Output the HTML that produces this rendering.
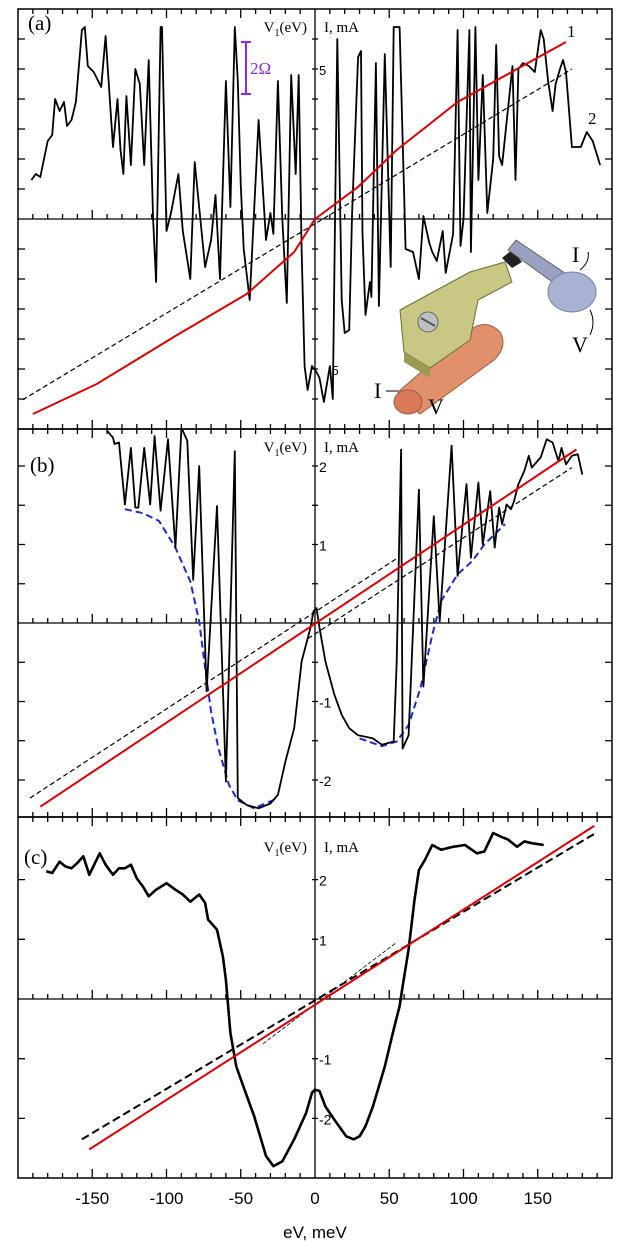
<!DOCTYPE html>
<html><head><meta charset="utf-8"><style>
html,body{margin:0;padding:0;background:#fff;}
svg{display:block;}
text{font-family:"Liberation Sans",sans-serif;}
.serif{font-family:"Liberation Serif",serif;}
</style></head><body>
<svg id="chart" width="620" height="1242" viewBox="0 0 620 1242" xmlns="http://www.w3.org/2000/svg">
<g id="frames"></g>
<g id="inset">
  <path d="M398 392 L470 330 Q486 318 500 332 Q508 346 494 360 L420 414 Z" fill="#e0906a" stroke="#a05a3a" stroke-width="1"/>
  <ellipse cx="408" cy="402" rx="14" ry="12" fill="#d9795a" stroke="#a05a3a"/>
  <path d="M400 310 L470 272 L505 262 L512 282 L478 300 L470 340 L430 368 L404 352 Z" fill="#c8c884" stroke="#6e6e30" stroke-width="1"/>
  <path d="M404 352 L430 368 L430 378 L404 362 Z" fill="#9a9a50"/>
  <circle cx="428" cy="322" r="10" fill="#c0c0c0" stroke="#666"/>
  <line x1="421" y1="318" x2="435" y2="326" stroke="#555" stroke-width="2"/>
  <path d="M502 258 L512 250 L522 262 L512 268 Z" fill="#222"/>
  <path d="M508 250 L516 240 L590 290 L580 302 Z" fill="#9aa0c0" stroke="#555" stroke-width="0.8"/>
  <ellipse cx="572" cy="292" rx="24" ry="20" fill="#aab2d4" stroke="#7a80a0"/>
  <path d="M580 270 Q590 262 588 252" fill="none" stroke="#000"/>
  <path d="M590 310 Q596 322 590 335" fill="none" stroke="#000"/>
  <text class="serif" x="572" y="262" font-size="22">I</text>
  <text class="serif" x="572" y="352" font-size="22">V</text>
  <text class="serif" x="374" y="398" font-size="22">I</text>
  <line x1="386" y1="391" x2="398" y2="391" stroke="#000"/>
  <text class="serif" x="428" y="414" font-size="22">V</text>
</g>
<g id="plots"></g>
<g id="labels"></g>
</svg>
<script>
// ---------- data ----------
const xTicks = [-150,-100,-50,0,50,100,150];
const aX = [-191,-188,-185,-180,-177,-175,-172,-169,-167,-164,-161,-157,-155,-153,-149,-144,-141,-136,-133,-131,-129,-127,-124,-121,-118,-115,-112,-109,-107,-104,-103,-100,-97,-92,-89,-84,-81,-74,-70,-67,-64,-60,-57,-54,-52,-50,-48,-44,-38,-33,-30,-28,-25,-22,-19,-16,-13,-11,-9,-7,-5,-2,1,3,6,10,12,15,18,20,23,25,29,31,32,34,37,38,41,43,47,51,53,57,61,66,70,73,77,79,82,86,88,93,96,98,100,104,105,108,110,113,116,120,122,124,126,133,135,137,140,144,148,152,154,157,160,162,165,167,169,173,179,183,187,192];
const aY = [1.3,1.5,1.4,2.6,2.8,4.0,3.6,3.9,3.1,3.3,3.9,6.3,6.4,5.1,4.9,4.4,6.1,2.4,4.0,2.3,1.5,4.1,1.8,5.0,4.5,1.8,5.3,0,-2.1,6.4,6.4,-0.4,0.2,1.5,-0.4,-2.0,1.9,-1.6,-0.7,0.8,-2.0,4.6,0.4,6.4,4.6,1.1,-1.0,-2.7,3.3,-0.7,0.2,-0.5,4.6,0,-2.8,4.8,1.5,4.8,-1.0,-4.9,-5.7,-4.9,-5.1,-5.3,-6.1,-4.9,-6.0,6.0,-2.7,-3.8,-3.7,0.2,5.4,5.6,-0.5,-3.2,-2.1,-2.6,5.2,-2.9,5.5,-1.6,6.4,6.4,-1.0,-1.1,-2.0,0.1,-0.8,-1.1,-1.4,-0.4,-1.8,-0.5,6.3,-0.9,0,6.3,-1.1,6.4,1.3,4.8,0.2,2.0,5.8,2.1,1.8,5.1,1.3,5.0,5.2,5.1,4.9,6.3,6.0,4.6,3.6,4.5,5.0,5.3,4.9,2.4,2.4,2.9,2.6,1.8];
const aRedX = [-190,-147,-94,-46,-14,0,29,55,96,136,169];
const aRedY = [-6.5,-5.5,-3.9,-2.5,-1.1,0,1.07,2.3,3.9,5.0,5.9];
const aDashX = [-197,173];
const aDashY = [-6.03,5.0];

const bX = [-140,-136,-135,-132,-128,-124,-121,-119,-115,-111,-108,-104,-99,-94,-90,-89,-86,-82,-78,-73,-66,-60,-54,-52,-46,-38,-30,-25,-20,-14,-9,-3,-1,1,3,7,13,18,23,29,34,39,45,53,55,58,59,63,70,73,80,84,92,96,102,105,110,113,118,121,124,126,129,132,134,137,141,144,146,152,156,160,164,166,169,173,177,180];
const bY = [2.45,2.36,2.28,2.3,1.51,2.23,1.47,1.47,2.23,1.51,2.38,1.43,2.34,0.96,2.45,2.45,2.32,0.55,2.0,-0.87,1.49,-2.02,2.19,-2.23,-2.32,-2.36,-2.3,-2.19,-1.77,-1.34,-0.49,-0.06,0.15,0.19,-0.06,-0.49,-0.91,-1.17,-1.34,-1.43,-1.45,-1.47,-1.55,-1.51,-0.49,2.21,-1.6,-1.43,1.7,-0.81,1.36,0.02,2.26,0.6,1.77,0.83,1.79,1.0,1.68,0.96,1.47,1.26,1.51,1.45,1.55,1.77,1.94,2.13,1.98,2.11,2.34,2.3,2.06,2.23,2.02,2.13,2.15,1.89];
const bEnvLX = [-128,-116,-105,-94,-84,-78,-74,-70,-65,-58,-52,-41,-25];
const bEnvLY = [1.45,1.4,1.3,0.96,0.53,0.02,-0.57,-1.13,-1.6,-2.06,-2.26,-2.36,-2.23];
const bEnvRX = [30,45,55,63,71,79,85,96,106,114,128];
const bEnvRY = [-1.47,-1.57,-1.51,-1.3,-0.83,-0.15,0.28,0.62,0.79,1.0,1.26];
const bRedX = [-185,176];
const bRedY = [-2.34,2.21];
const bDash1X = [-192,55];
const bDash1Y = [-2.23,0.82];
const bDash2X = [-5,173];
const bDash2Y = [-0.2,1.98];

const cX = [-181,-177,-172,-168,-164,-160,-156,-152,-145,-141,-136,-132,-128,-124,-120,-116,-112,-107,-100,-94,-89,-84,-78,-74,-72,-66,-62,-60,-57,-53,-49,-41,-33,-28,-22,-14,-6,-2,0,3,7,13,21,26,30,34,39,47,53,57,59,63,67,70,74,79,85,93,101,109,114,120,125,130,136,141,146,154];
const cY = [2.14,2.11,2.3,2.22,2.19,2.28,2.39,2.08,2.44,2.25,2.08,2.19,2.19,2.25,2.02,1.89,1.72,1.83,1.94,1.83,1.75,1.63,1.75,1.61,1.33,1.16,0.71,0.32,-0.57,-1.13,-1.41,-1.96,-2.63,-2.8,-2.72,-2.35,-1.91,-1.57,-1.52,-1.54,-1.8,-2.02,-2.3,-2.35,-2.3,-2.13,-1.8,-1.13,-0.51,-0.12,0.21,0.83,1.66,2.16,2.33,2.58,2.5,2.55,2.58,2.44,2.47,2.78,2.72,2.67,2.55,2.64,2.61,2.58];
const cRedX = [-152,188];
const cRedY = [-2.52,2.9];
const cDashX = [-157,189];
const cDashY = [-2.35,2.78];
const cThinX = [-35,55];
const cThinY = [-0.75,0.95];

const aYTicks = [-6,-5,-4,-3,-2,-1,1,2,3,4,5,6];
const bYTicks = [-2,-1.5,-1,-0.5,0.5,1,1.5,2];
const cYTicks = [-2,-1,1,2];

// ---------- layout ----------
const L=18, R=612;
const X = v => L + (v + 200) * (R - L) / 400;
const panels = {
  a:{top:9,bottom:429,zero:219,ppm:30},
  b:{top:429,bottom:817,zero:623,ppm:78.5},
  c:{top:817,bottom:1178,zero:999,ppm:59.7}
};
const NS='http://www.w3.org/2000/svg';
const frames=document.getElementById('frames');
const plots=document.getElementById('plots');
const labels=document.getElementById('labels');
function mk(tag,parent){const e=document.createElementNS(NS,tag);parent.appendChild(e);return e;}

function drawFrame(key){
  const p=panels[key];
  const g=mk('g',frames);
  
  
  const r=mk('rect',g);
  r.setAttribute('x',L);r.setAttribute('y',p.top);r.setAttribute('width',R-L);r.setAttribute('height',p.bottom-p.top);
  r.setAttribute('fill','none');r.setAttribute('stroke','#000');r.setAttribute('stroke-width','1.5');
  
  
  let d='M'+L+' '+p.zero+'H'+R+'M'+X(0)+' '+p.top+'V'+p.bottom;
  for(let v=-190;v<=190;v+=10){
    const len = v%50===0?9:5;
    const x=X(v);
    d+='M'+x+' '+p.top+'v'+len+'M'+x+' '+p.bottom+'v'+(-len)+'M'+x+' '+p.zero+'v'+(-len);
  }
  const yt = key==='a'?aYTicks:(key==='b'?bYTicks:cYTicks);
  yt.forEach(t=>{const y=p.zero-t*p.ppm;d+='M'+L+' '+y+'h7M'+R+' '+y+'h-7M'+(X(0)-3)+' '+y+'h6';});
  const path=mk('path',g);
  path.setAttribute('d',d);path.setAttribute('stroke','#000');path.setAttribute('stroke-width','1.3');path.setAttribute('fill','none');
  
  
}
['a','b','c'].forEach(drawFrame);

function line(key,xs,ys,color,width,dash,name){
  const p=panels[key];
  const pts=xs.map((v,i)=>X(v).toFixed(1)+','+(p.zero-ys[i]*p.ppm).toFixed(1)).join(' ');
  const e=mk('polyline',plots);
  e.setAttribute('points',pts);e.setAttribute('fill','none');e.setAttribute('stroke',color);
  e.setAttribute('stroke-width',width);e.setAttribute('stroke-linejoin','round');
  if(dash)e.setAttribute('stroke-dasharray',dash);
  
  
}
line('a',aDashX,aDashY,'#000',1.2,'5,3','panel-a-dashed-line-2');
line('a',aX,aY,'#000',1.8,null,'panel-a-dvdi-curve');
line('a',aRedX,aRedY,'#e00000',2,null,'panel-a-iv-curve-1');
line('b',bDash1X,bDash1Y,'#000',1.2,'5,3','panel-b-dashed-line-1');
line('b',bDash2X,bDash2Y,'#000',1.2,'5,3','panel-b-dashed-line-2');
line('b',bEnvLX,bEnvLY,'#1a2ad8',2,'7,4','panel-b-envelope-left');
line('b',bEnvRX,bEnvRY,'#1a2ad8',2,'7,4','panel-b-envelope-right');
line('b',bX,bY,'#000',1.8,null,'panel-b-dvdi-curve');
line('b',bRedX,bRedY,'#e00000',2,null,'panel-b-iv-curve');
line('c',cThinX,cThinY,'#000',0.8,'4,2','panel-c-thin-dashed');
line('c',cDashX,cDashY,'#000',2,'8,4','panel-c-dashed-line');
line('c',cX,cY,'#000',2.6,null,'panel-c-dvdi-curve');
line('c',cRedX,cRedY,'#e00000',2,null,'panel-c-iv-curve');

function txt(x,y,s,size,cls,name,anchor){
  const e=mk('text',labels);
  e.setAttribute('x',x);e.setAttribute('y',y);e.setAttribute('font-size',size);
  if(cls)e.setAttribute('class',cls);
  if(anchor)e.setAttribute('text-anchor',anchor);
  e.textContent=s;
  
  
  return e;
}
xTicks.forEach(t=>{txt(X(t),1204,String(t),17,null,'x-tick-label','middle');});
txt(X(0),1238,'eV, meV',17,null,'x-axis-title','middle');
txt(28,30,'(a)',21,'serif','panel-a-label');
txt(30,472,'(b)',21,'serif','panel-b-label');
txt(24,864,'(c)',21,'serif','panel-c-label');
[['a',panels.a],['b',panels.b],['c',panels.c]].forEach(([k,p])=>{
  const yy = k==='c'? p.top+35 : p.top+23;
  const v=txt(X(0)-8,yy,'V',15,'serif','panel-'+k+'-v1-label','end');
  v.textContent='';
  const t1=mk('tspan',v);t1.textContent='V';
  const t2=mk('tspan',v);t2.setAttribute('font-size','10');t2.setAttribute('dy','4');t2.textContent='1';
  const t3=mk('tspan',v);t3.setAttribute('dy','-4');t3.textContent='(eV)';
  txt(X(0)+9,yy,'I, mA',15,'serif','panel-'+k+'-current-label');
});
txt(X(0)+4,panels.a.zero-5*panels.a.ppm+6,'5',13,null,'panel-a-y-label');
txt(X(0)+18,panels.a.zero+5*panels.a.ppm+6,'-5',13,null,'panel-a-y-label','middle');
[2,1,-1,-2].forEach(t=>{txt(X(0)+4,panels.b.zero-t*panels.b.ppm+6,String(t),14,null,'panel-b-y-label');});
[2,1,-1,-2].forEach(t=>{txt(X(0)+4,panels.c.zero-t*panels.c.ppm+6,String(t),14,null,'panel-c-y-label');});
txt(567,37,'1',17,'serif','curve-1-label');
txt(588,124,'2',17,'serif','curve-2-label');
// scale bar
const sb=mk('path',labels);
sb.setAttribute('d','M241 42h10M246 42V94M241 94h10');
sb.setAttribute('stroke','#8a2be2');sb.setAttribute('stroke-width','2');sb.setAttribute('fill','none');


const sbt=txt(250,74,'2Ω',17,'serif','scale-bar-label');
sbt.setAttribute('fill','#8a2be2');
</script>
</body></html>
